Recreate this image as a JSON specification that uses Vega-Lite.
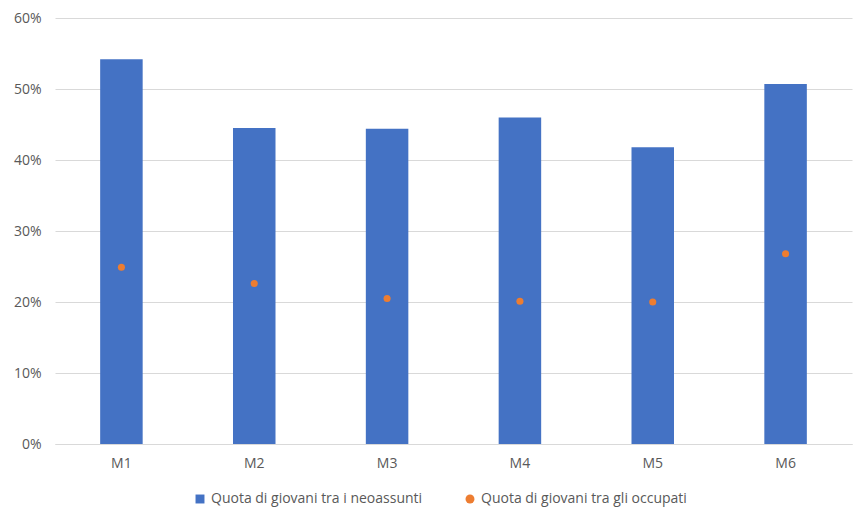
{
  "$schema": "https://vega.github.io/schema/vega-lite/v6.json",
  "width": 797,
  "height": 426,
  "autosize": {"type": "none"},
  "padding": {"left": 55, "top": 18, "right": 1, "bottom": 67},
  "background": "white",
  "config": {
    "view": {"stroke": null},
    "font": "Open Sans",
    "axis": {"labelFont": "Open Sans", "labelColor": "#595959", "labelFontSize": 14},
    "legend": {"labelFont": "Open Sans", "labelColor": "#595959", "labelFontSize": 14, "labelLimit": 400}
  },
  "data": {
    "values": [
      {"m": "M1", "serie": "Quota di giovani tra i neoassunti", "v": 0.542},
      {"m": "M2", "serie": "Quota di giovani tra i neoassunti", "v": 0.445},
      {"m": "M3", "serie": "Quota di giovani tra i neoassunti", "v": 0.444},
      {"m": "M4", "serie": "Quota di giovani tra i neoassunti", "v": 0.460},
      {"m": "M5", "serie": "Quota di giovani tra i neoassunti", "v": 0.418},
      {"m": "M6", "serie": "Quota di giovani tra i neoassunti", "v": 0.507},
      {"m": "M1", "serie": "Quota di giovani tra gli occupati", "v": 0.249},
      {"m": "M2", "serie": "Quota di giovani tra gli occupati", "v": 0.226},
      {"m": "M3", "serie": "Quota di giovani tra gli occupati", "v": 0.205},
      {"m": "M4", "serie": "Quota di giovani tra gli occupati", "v": 0.201},
      {"m": "M5", "serie": "Quota di giovani tra gli occupati", "v": 0.200},
      {"m": "M6", "serie": "Quota di giovani tra gli occupati", "v": 0.268}
    ]
  },
  "encoding": {
    "x": {
      "field": "m", "type": "nominal", "title": null,
      "scale": {"paddingInner": 0.68, "paddingOuter": 0.34},
      "axis": {"labelAngle": 0, "ticks": false, "domainColor": "#D9D9D9", "labelPadding": 12}
    },
    "y": {
      "field": "v", "type": "quantitative", "title": null,
      "scale": {"domain": [0, 0.6], "nice": false},
      "axis": {"format": ".0%", "values": [0, 0.1, 0.2, 0.3, 0.4, 0.5, 0.6], "ticks": false, "domain": false, "gridColor": "#D9D9D9", "labelPadding": 14}
    },
    "color": {
      "field": "serie", "type": "nominal", "title": null,
      "scale": {"domain": ["Quota di giovani tra i neoassunti", "Quota di giovani tra gli occupati"], "range": ["#4472C4", "#ED7D31"]},
      "legend": {"orient": "none", "legendX": 138, "legendY": 474, "direction": "horizontal", "columnPadding": 40, "symbolSize": 80}
    }
  },
  "layer": [
    {
      "transform": [{"filter": "datum.serie === 'Quota di giovani tra i neoassunti'"}],
      "mark": {"type": "bar"}
    },
    {
      "transform": [{"filter": "datum.serie === 'Quota di giovani tra gli occupati'"}],
      "mark": {"type": "point", "filled": true, "opacity": 1, "size": 50},
      "encoding": {
        "shape": {
          "field": "serie", "type": "nominal", "title": null,
          "scale": {"domain": ["Quota di giovani tra i neoassunti", "Quota di giovani tra gli occupati"], "range": ["square", "circle"]}
        }
      }
    }
  ]
}
